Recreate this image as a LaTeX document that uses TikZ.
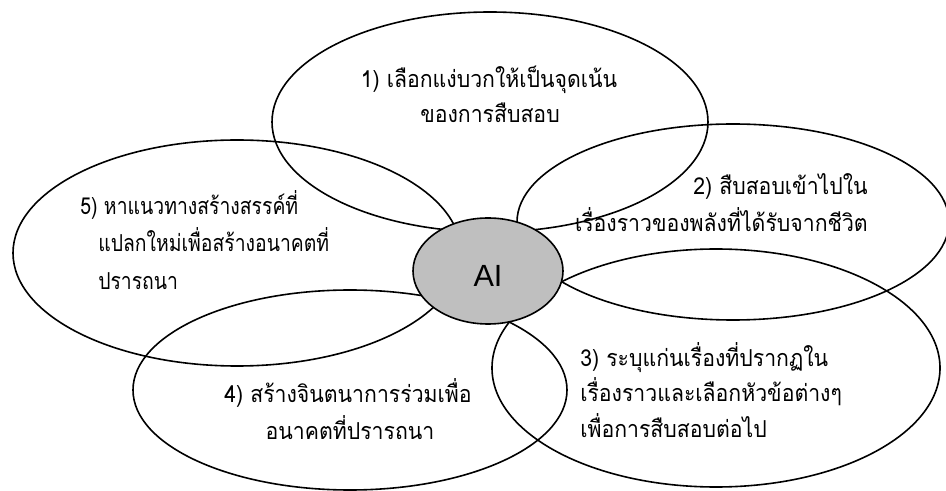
\documentclass[tikz,border=0pt]{standalone}
\usepackage{fontspec}
\setmainfont{Liberation Sans}
\newfontfamily\thaifont[Script=Thai,FakeStretch=0.91]{Loma}
\newfontfamily\thaifontc[Script=Thai,FakeStretch=0.83]{Loma}
\usetikzlibrary{shapes.geometric}
\definecolor{aigray}{RGB}{191,191,191}
\begin{document}
\begin{tikzpicture}[x=0.75pt,y=-0.75pt,
  petal/.style={ellipse, draw=black, line width=1.2pt, inner sep=0pt},
  thai/.style={font=\thaifont\fontsize{17.5}{21}\selectfont, inner sep=0pt},
  thaic/.style={font=\thaifontc\fontsize{17.5}{21}\selectfont, inner sep=0pt},
]
\useasboundingbox (0,0) rectangle (946,491);
\begin{scope}
\clip (0,0) rectangle (946,491);
\node[petal, minimum width=327pt, minimum height=165pt] (p1) at (490,122) {};
\node[petal, minimum width=324pt, minimum height=147pt] (p2) at (733,222) {};
\node[petal, minimum width=336pt, minimum height=178.5pt] (p3) at (716,368) {};
\node[petal, minimum width=325.5pt, minimum height=150pt] (p4) at (350,390) {};
\node[petal, minimum width=336pt, minimum height=169.5pt] (p5) at (237,253) {};
\end{scope}
\node[ellipse, draw=black, fill=aigray, line width=1.2pt, inner sep=0pt,
  minimum width=112.5pt, minimum height=79.5pt,
  font=\fontsize{23}{23}\selectfont, text height=23.25pt, text depth=0pt] (ai) at (488,271) {AI};
% texts
\node[thai, anchor=base] (t1a) at (489,88) {1) เลือกแง่บวกให้เป็นจุดเน้น};
\node[thai, anchor=base] (t1b) at (490,123) {ของการสืบสอบ};
\node[thai, anchor=base east] (t2a) at (868,195) {2) สืบสอบเข้าไปใน};
\node[thai, anchor=base east] (t2b) at (868,232) {เรื่องราวของพลังที่ได้รับจากชีวิต};
\node[thai, anchor=base west] (t3a) at (580,367) {3) ระบุแก่นเรื่องที่ปรากฏใน};
\node[thai, anchor=base west] (t3b) at (580,402) {เรื่องราวและเลือกหัวข้อต่างๆ};
\node[thai, anchor=base west] (t3c) at (580,438) {เพื่อการสืบสอบต่อไป};
\node[thai, anchor=base] (t4a) at (348,403) {4) สร้างจินตนาการร่วมเพื่อ};
\node[thai, anchor=base] (t4b) at (350,440) {อนาคตที่ปรารถนา};
\node[thaic, anchor=base west] (t5a) at (80,215) {5) หาแนวทางสร้างสรรค์ที่};
\node[thaic, anchor=base west] (t5b) at (98,252) {แปลกใหม่เพื่อสร้างอนาคตที่};
\node[thaic, anchor=base west] (t5c) at (98,290) {ปรารถนา};
\end{tikzpicture}
\end{document}
